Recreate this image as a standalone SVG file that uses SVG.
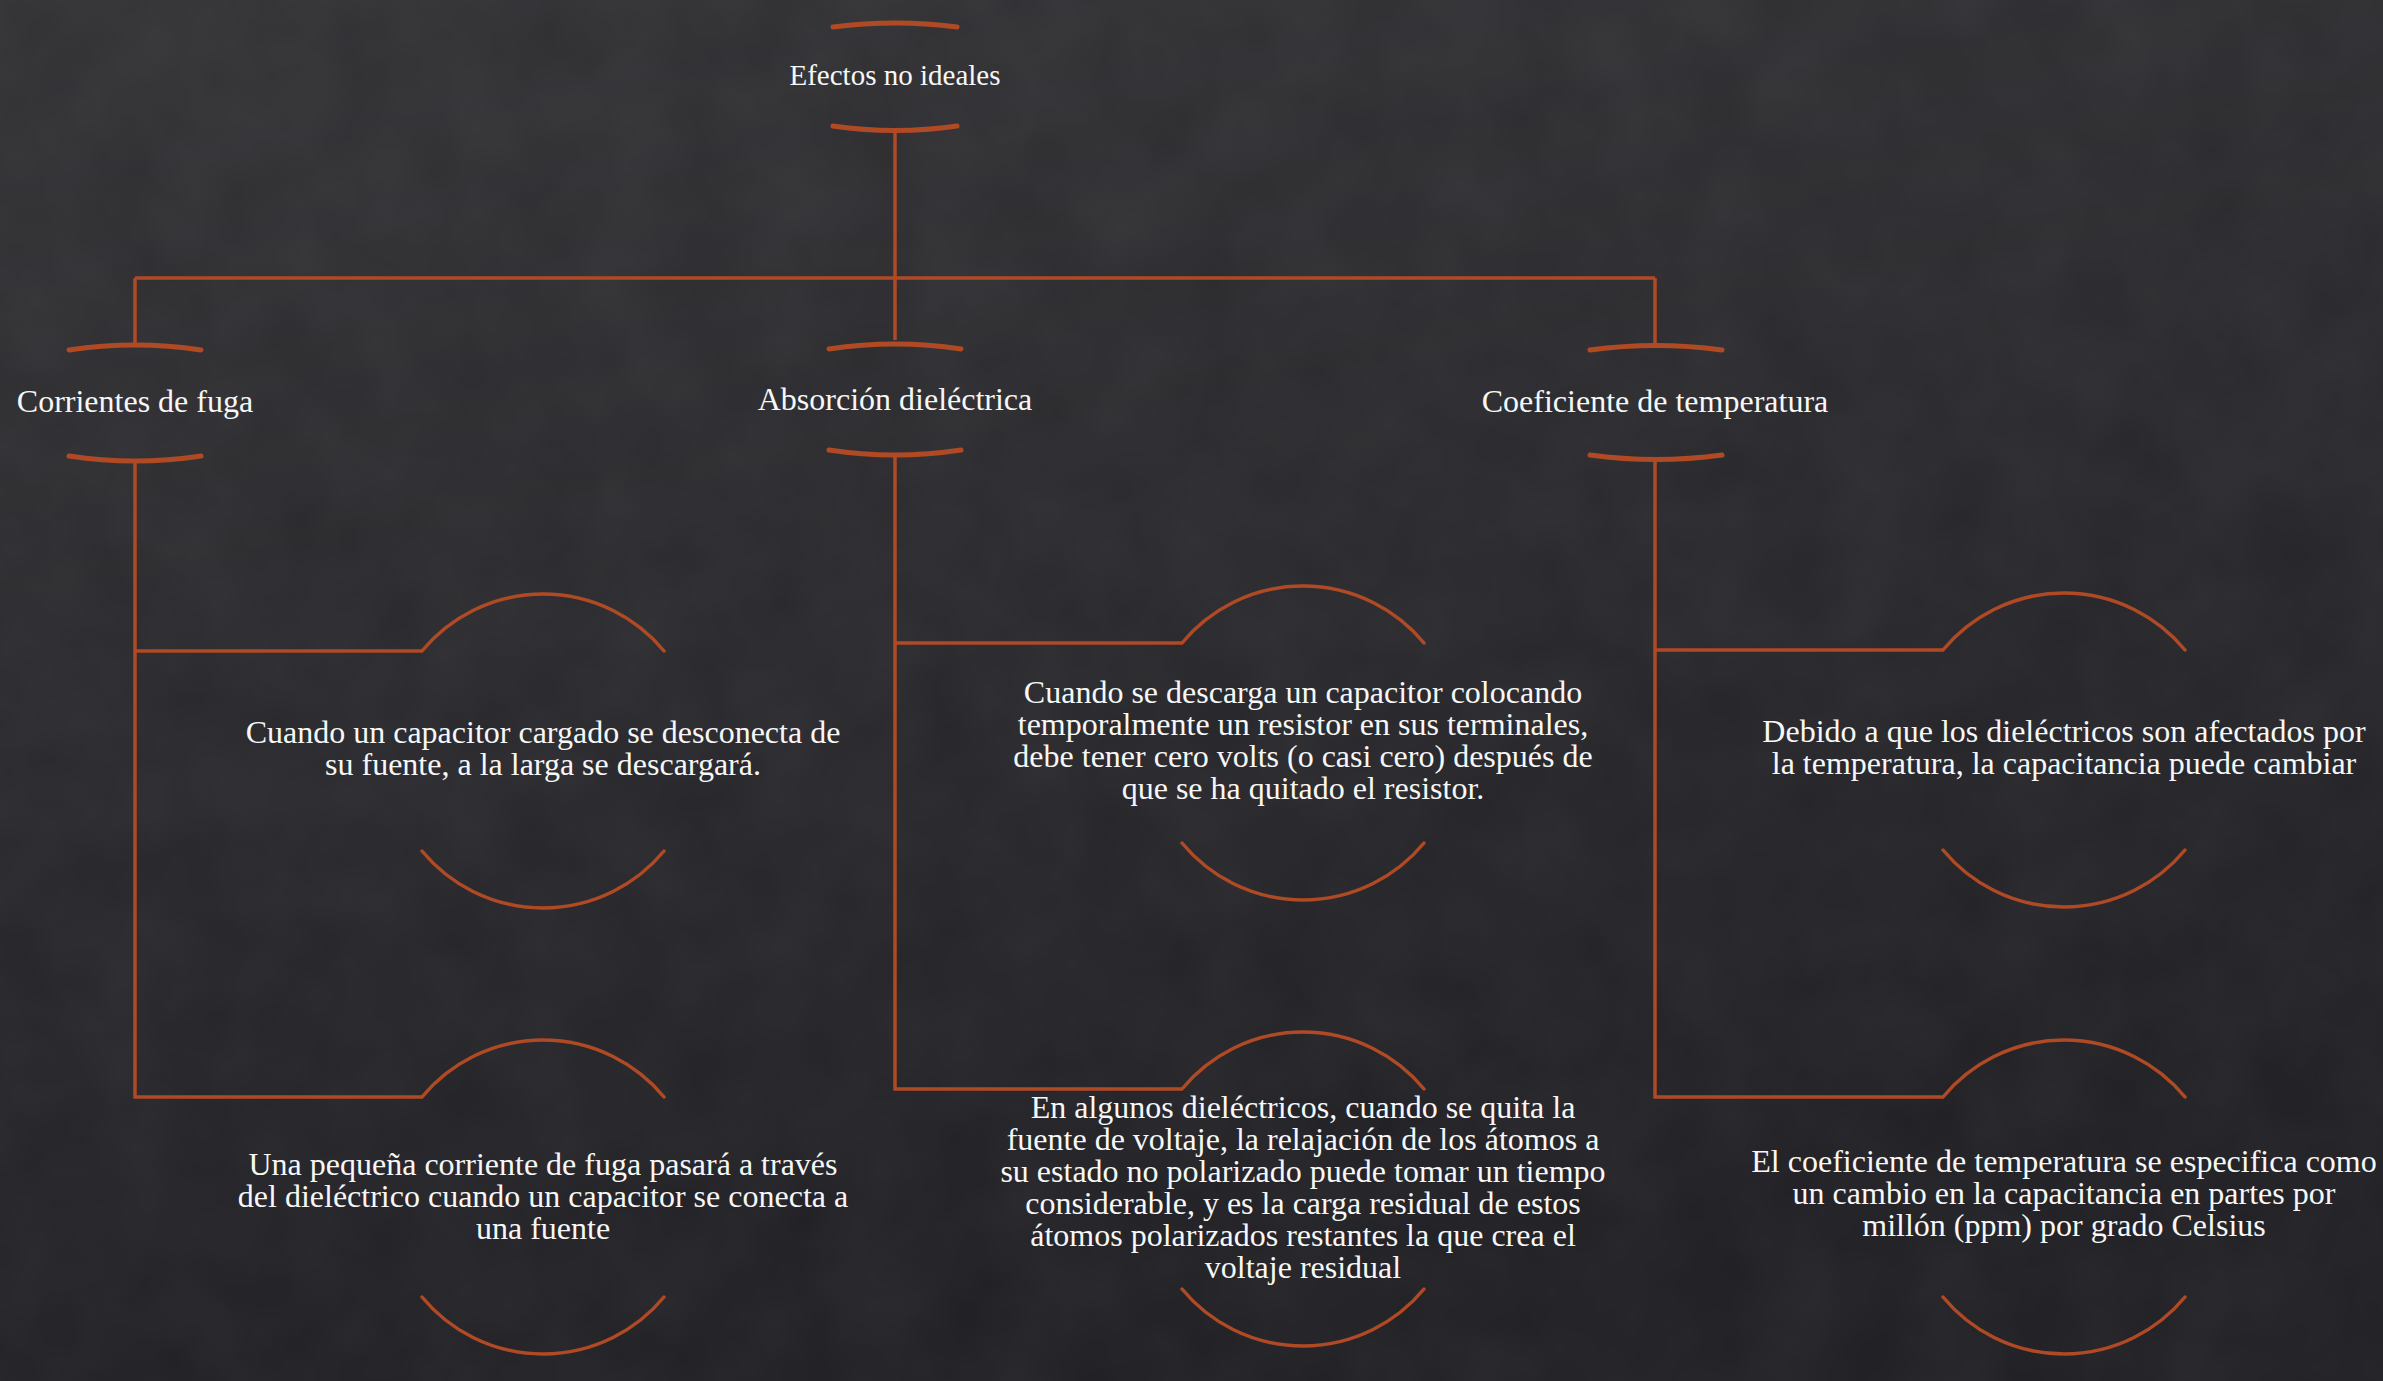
<svg xmlns="http://www.w3.org/2000/svg" width="2383" height="1381" viewBox="0 0 2383 1381">
  <defs>
    <linearGradient id="bg" x1="0" y1="0" x2="0.3" y2="1">
      <stop offset="0" stop-color="#323235"/>
      <stop offset="0.5" stop-color="#29292d"/>
      <stop offset="1" stop-color="#1f1f24"/>
    </linearGradient>
    <filter id="noise" x="0" y="0" width="100%" height="100%">
      <feTurbulence type="fractalNoise" baseFrequency="0.012" numOctaves="3" seed="4"/>
      <feColorMatrix type="matrix" values="0 0 0 0 1  0 0 0 0 1  0 0 0 0 1  0 0 0 0.05 0"/>
    </filter>
    <style>
      .ln { fill: none; stroke: #b04a24; stroke-width: 3.5; stroke-linecap: butt; stroke-linejoin: miter; }
      .cap { fill: none; stroke: #b04a24; stroke-width: 5; stroke-linecap: round; }
      .arc { fill: none; stroke: #b04a24; stroke-width: 3.5; stroke-linecap: round; }
      .t { fill: #f7f7f7; font-family: "Liberation Serif", "DejaVu Serif", serif; text-anchor: middle; }
      .head { font-size: 29px; }
      .lvl { font-size: 32px; }
      .body { font-size: 32px; }
    </style>
  </defs>
  <rect x="0" y="0" width="2383" height="1381" fill="url(#bg)"/>
  <rect x="0" y="0" width="2383" height="1381" filter="url(#noise)"/>

  <g id="connectors">
    <path class="ln" d="M895,131 V278 M135,278 H1655 M135,278 V345 M895,278 V340 M1655,278 V346"/>
    <path class="ln" d="M135,461 V1097 H422 M135,651 H422"/>
    <path class="ln" d="M895,455 V1089 H1182 M895,643 H1182"/>
    <path class="ln" d="M1655,459 V1097 H1943 M1655,650 H1943"/>
  </g>

  <g id="root">
    <path class="cap" d="M833,27 Q895,19 957,27"/>
    <path class="cap" d="M833,126 Q895,135 957,126"/>
    <text class="t head" x="895" y="85">Efectos no ideales</text>
  </g>

  <g id="corrientes">
    <path class="cap" d="M69,350 Q135,340 201,350"/>
    <path class="cap" d="M69,456 Q135,466 201,456"/>
    <text class="t lvl" x="135" y="412">Corrientes de fuga</text>
  </g>

  <g id="absorcion">
    <path class="cap" d="M829,349 Q895,339 961,349"/>
    <path class="cap" d="M829,450 Q895,460 961,450"/>
    <text class="t lvl" x="895" y="410">Absorción dieléctrica</text>
  </g>

  <g id="coeficiente">
    <path class="cap" d="M1590,350 Q1656,341 1722,350"/>
    <path class="cap" d="M1590,455 Q1656,464 1722,455"/>
    <text class="t lvl" x="1655" y="412">Coeficiente de temperatura</text>
  </g>

  <g id="corrientes-1">
    <path class="arc" d="M422,651 A157,157 0 0 1 664,651"/>
    <path class="arc" d="M422,851 A157,157 0 0 0 664,851"/>
    <text class="t body" x="543" y="743">Cuando un capacitor cargado se desconecta de</text>
    <text class="t body" x="543" y="775">su fuente, a la larga se descargará.</text>
  </g>

  <g id="corrientes-2">
    <path class="arc" d="M422,1097 A157,157 0 0 1 664,1097"/>
    <path class="arc" d="M422,1297 A157,157 0 0 0 664,1297"/>
    <text class="t body" x="543" y="1175">Una pequeña corriente de fuga pasará a través</text>
    <text class="t body" x="543" y="1207">del dieléctrico cuando un capacitor se conecta a</text>
    <text class="t body" x="543" y="1239">una fuente</text>
  </g>

  <g id="absorcion-1">
    <path class="arc" d="M1182,643 A157,157 0 0 1 1424,643"/>
    <path class="arc" d="M1182,843 A157,157 0 0 0 1424,843"/>
    <text class="t body" x="1303" y="703">Cuando se descarga un capacitor colocando</text>
    <text class="t body" x="1303" y="735">temporalmente un resistor en sus terminales,</text>
    <text class="t body" x="1303" y="767">debe tener cero volts (o casi cero) después de</text>
    <text class="t body" x="1303" y="799">que se ha quitado el resistor.</text>
  </g>

  <g id="absorcion-2">
    <path class="arc" d="M1182,1089 A157,157 0 0 1 1424,1089"/>
    <path class="arc" d="M1182,1289 A157,157 0 0 0 1424,1289"/>
    <text class="t body" x="1303" y="1118">En algunos dieléctricos, cuando se quita la</text>
    <text class="t body" x="1303" y="1150">fuente de voltaje, la relajación de los átomos a</text>
    <text class="t body" x="1303" y="1182">su estado no polarizado puede tomar un tiempo</text>
    <text class="t body" x="1303" y="1214">considerable, y es la carga residual de estos</text>
    <text class="t body" x="1303" y="1246">átomos polarizados restantes la que crea el</text>
    <text class="t body" x="1303" y="1278">voltaje residual</text>
  </g>

  <g id="coeficiente-1">
    <path class="arc" d="M1943,650 A157,157 0 0 1 2185,650"/>
    <path class="arc" d="M1943,850 A157,157 0 0 0 2185,850"/>
    <text class="t body" x="2064" y="742">Debido a que los dieléctricos son afectados por</text>
    <text class="t body" x="2064" y="774">la temperatura, la capacitancia puede cambiar</text>
  </g>

  <g id="coeficiente-2">
    <path class="arc" d="M1943,1097 A157,157 0 0 1 2185,1097"/>
    <path class="arc" d="M1943,1297 A157,157 0 0 0 2185,1297"/>
    <text class="t body" x="2064" y="1172">El coeficiente de temperatura se especifica como</text>
    <text class="t body" x="2064" y="1204">un cambio en la capacitancia en partes por</text>
    <text class="t body" x="2064" y="1236">millón (ppm) por grado Celsius</text>
  </g>
</svg>
